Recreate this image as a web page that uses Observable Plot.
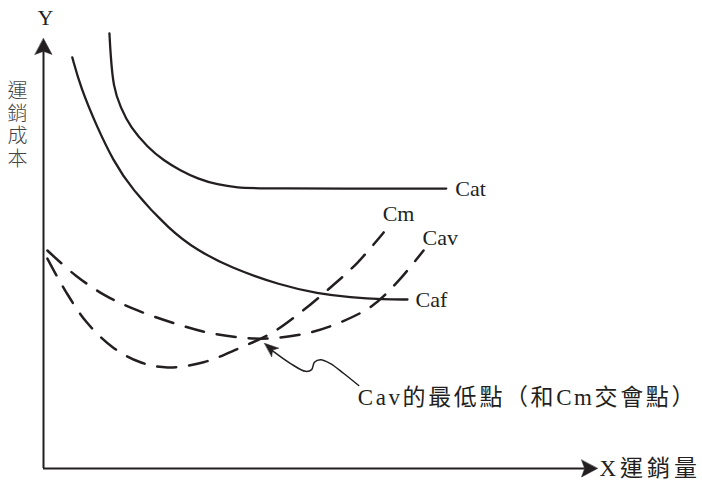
<!DOCTYPE html>
<html>
<head>
<meta charset="utf-8">
<script src="https://cdn.jsdelivr.net/npm/d3@7"></script>
<script src="https://cdn.jsdelivr.net/npm/@observablehq/plot@0.6"></script>
<style>
  html, body { margin: 0; padding: 0; background: #fff; }
  #chart { width: 702px; height: 486px; }
</style>
</head>
<body>
<div id="chart"></div>
<script>
// ---- data (x: 運銷量, y: 運銷成本, arbitrary units 0..10) ----
const cat = [[1.19,10.12],[1.21,9.65],[1.26,8.86],[1.39,8.40],[1.57,7.93],[1.88,7.47],[2.17,7.16],[2.47,6.93],[2.78,6.74],[3.14,6.60],[3.51,6.53],[3.86,6.51],[7.27,6.51]];
const caf = [[0.52,9.56],[0.67,8.86],[0.97,7.93],[1.26,7.16],[1.57,6.53],[2.29,5.53],[2.78,5.07],[3.38,4.67],[4.28,4.26],[4.95,4.07],[5.54,3.98],[6.14,3.93],[6.57,3.93]];
const cav = [[0.07,5.07],[0.58,4.49],[1.12,4.02],[1.71,3.67],[2.38,3.37],[3.05,3.14],[3.92,3.02],[4.73,3.14],[5.36,3.40],[5.94,3.79],[6.41,4.37],[6.86,5.07]];
const cm  = [[0.07,4.88],[0.40,4.12],[0.78,3.40],[1.26,2.81],[1.75,2.47],[2.24,2.35],[2.89,2.47],[3.52,2.79],[4.13,3.16],[4.64,3.63],[5.18,4.21],[5.67,4.79],[6.14,5.49]];
const leader = [[5.69,1.93],[5.42,2.21],[5.18,2.44],[5.00,2.53],[4.89,2.47],[4.84,2.30],[4.73,2.26],[4.46,2.44],[4.13,2.74]];
const leaderTip = [[3.99,2.91]];
const seriesNames = ["Cat", "Caf", "Cm", "Cav"];
const annotation = "Cav的最低點（和Cm交會點）";
const yTitle = "Y";
const yLabel = "運銷成本";
const xLabel = "X運銷量";
const axisEnd = 10;

const ink = "#231f20";
const serif = "'Liberation Serif', 'Times New Roman', 'Noto Sans CJK TC', serif";
const cjk = "'Liberation Serif', 'Noto Sans CJK TC', sans-serif";

// filled "stealth" arrowhead for vector marks
const stealth = (w, notch) => ({
  draw(context, l) {
    context.moveTo(0, -l);
    context.lineTo(w / 2, 0);
    context.lineTo(0, -l * notch);
    context.lineTo(-w / 2, 0);
    context.closePath();
  }
});

const chart = Plot.plot({
  width: 702,
  height: 486,
  margin: 0,
  style: { background: "#fff" },
  x: { domain: [0, axisEnd], range: [43, 597], axis: null },
  y: { domain: [0, axisEnd], range: [468, 38], axis: null },
  marks: [
    // axes
    Plot.ruleX([0], { y1: 0, y2: axisEnd * 0.97, stroke: ink, strokeWidth: 2 }),
    Plot.ruleY([0], { x1: 0, x2: axisEnd * 0.978, stroke: ink, strokeWidth: 2 }),
    Plot.vector([[0, axisEnd]], { anchor: "end", length: 16, rotate: 0, shape: stealth(17, 0.2), fill: ink, stroke: ink, strokeWidth: 0.5 }),
    Plot.vector([[axisEnd, 0]], { anchor: "end", length: 16, rotate: 90, shape: stealth(17, 0.2), fill: ink, stroke: ink, strokeWidth: 0.5 }),

    // curves
    Plot.line(cat, { curve: "basis", stroke: ink, strokeWidth: 2.3 }),
    Plot.line(caf, { curve: "basis", stroke: ink, strokeWidth: 2.3 }),
    Plot.line(cav, { curve: "catmull-rom", stroke: ink, strokeWidth: 2.5, strokeDasharray: "19,13" }),
    Plot.line(cm,  { curve: "catmull-rom", stroke: ink, strokeWidth: 2.5, strokeDasharray: "19,13" }),

    // curve labels
    Plot.text([cat.at(-1)], { text: [seriesNames[0]], textAnchor: "start", dx: 9, fontSize: 22, fontFamily: serif, fill: ink }),
    Plot.text([caf.at(-1)], { text: [seriesNames[1]], textAnchor: "start", dx: 8, fontSize: 22, fontFamily: serif, fill: ink }),
    Plot.text([cm.at(-1)],  { text: [seriesNames[2]], textAnchor: "start", dx: -1, dy: -18, fontSize: 22, fontFamily: serif, fill: ink }),
    Plot.text([cav.at(-1)], { text: [seriesNames[3]], textAnchor: "start", dx: -1, dy: -13, fontSize: 22, fontFamily: serif, fill: ink }),

    // annotation leader + arrow
    Plot.line(leader, { curve: "catmull-rom", stroke: ink, strokeWidth: 1.5 }),
    Plot.vector(leaderTip, { anchor: "end", length: 14, rotate: -50, shape: stealth(11, 0.25), fill: ink, stroke: ink, strokeWidth: 0.5 }),
    Plot.text([leader[0]], { text: [annotation], textAnchor: "start", dx: -1, dy: 12, fontSize: 23, fontFamily: cjk, fill: ink }),

    // axis titles
    Plot.text([[0, axisEnd]], { text: [yTitle], dx: 2, dy: -21, fontSize: 22, fontFamily: serif, fill: ink }),
    Plot.text([[0, 8.12]], { text: [yLabel], dx: -26, fontSize: 20, fontFamily: "'Noto Sans CJK TC', sans-serif", fontWeight: 300, fill: "#444" }),
    Plot.text([[axisEnd, 0]], { text: [xLabel], textAnchor: "start", dx: 2, fontSize: 23, fontFamily: cjk, fill: ink })
  ]
});

chart.querySelectorAll("text").forEach(t => {
  if (t.textContent === xLabel) t.setAttribute("letter-spacing", "4");
  if (t.textContent === annotation) t.setAttribute("letter-spacing", "2.6");
  if (t.textContent === yLabel) {
    t.setAttribute("writing-mode", "vertical-rl");
    t.setAttribute("letter-spacing", "2.5");
    t.removeAttribute("dy");
    t.querySelectorAll("tspan").forEach(s => s.removeAttribute("dy"));
  }
});

document.getElementById("chart").appendChild(chart);
</script>
</body>
</html>
